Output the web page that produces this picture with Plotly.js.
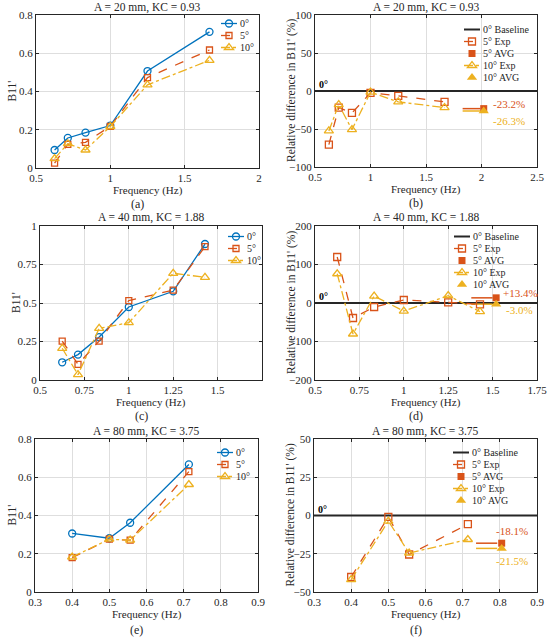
<!DOCTYPE html>
<html><head><meta charset="utf-8">
<script src="https://cdn.plot.ly/plotly-3.0.1.min.js"></script>
<style>html,body{margin:0;padding:0;background:#fff}#chart{width:550px;height:640px}</style>
</head><body><div id="chart"></div>
<script>
// ---------- data ----------
const freqA20 = [0.625, 0.714, 0.833, 1.0, 1.25, 1.667];
const b11A20_0 = [0.094, 0.157, 0.185, 0.222, 0.507, 0.712];
const b11A20_5 = [0.025, 0.124, 0.134, 0.218, 0.473, 0.617];
const b11A20_10 = [0.049, 0.127, 0.094, 0.217, 0.435, 0.563];
const relA20_5 = [-70.5, -21.8, -28.8, -2.4, -6.4, -14.3];
const relA20_10 = [-52.5, -17.8, -50.8, -1.5, -14.3, -21.8];

const freqA40 = [0.625, 0.714, 0.833, 1.0, 1.25, 1.429];
const b11A40_0 = [0.115, 0.165, 0.279, 0.474, 0.576, 0.883];
const b11A40_5 = [0.253, 0.102, 0.253, 0.515, 0.584, 0.866];
const b11A40_10 = [0.206, 0.035, 0.335, 0.372, 0.693, 0.667];
const relA40_5 = [119.5, -39, -10.4, 7.8, 1.7, -3.5];
const relA40_10 = [76, -80.5, 18, -21, 19, -22.5];

const freqA80 = [0.4, 0.5, 0.556, 0.714];
const b11A80_0 = [0.306, 0.281, 0.362, 0.667];
const b11A80_5 = [0.18, 0.276, 0.271, 0.629];
const b11A80_10 = [0.183, 0.276, 0.271, 0.562];
const relA80_5 = [-40.2, -0.9, -25.5, -5.7];
const relA80_10 = [-41.9, -3.7, -24.5, -15.7];

// averages (A = 20, 40, 80 mm)
const avg5 = [-23.2, 13.4, -18.1];
const avg10 = [-26.3, -3.0, -21.5];
const avgX = [2.02, 1.52, 0.805];
const avgLineStart = [1.83, 1.38, 0.736];
const avgLineEnd = [1.99, 1.50, 0.793];
const avgLabel5 = ['-23.2%', '+13.4%', '-18.1%'];
const avgLabel10 = ['-26.3%', '-3.0%', '-21.5%'];

const titles = ['A = 20 mm, KC = 0.93', 'A = 40 mm, KC = 1.88', 'A = 80 mm, KC = 3.75'];
const panelLabels = ['(a)', '(b)', '(c)', '(d)', '(e)', '(f)'];
const seriesNames = ['0°', '5°', '10°'];
const relNames = ['0° Baseline', '5° Exp', '5° AVG', '10° Exp', '10° AVG'];
const xTitle = 'Frequency (Hz)';
const yTitleB = "B11'";
const yTitleR = "Relative difference in B11' (%)";

// ---------- styling ----------
const W = 550, H = 640;
const C0 = '#0072BD', C5 = '#D95319', C10 = '#EDB120', CB = '#262626', TXT = '#262626';
const FONT = '"Liberation Serif", "Times New Roman", serif';
const fx = p => p / W, fy = p => 1 - p / H;

// panel geometry in pixels: [left, right, top, bottom]; lg = legend [left, top]
const panels = [
  {box: [36, 259, 15, 168], xr: [0.5, 2], yr: [0, 0.8], xt: [0.5, 1, 1.5, 2], yt: [0, 0.2, 0.4, 0.6, 0.8], lg: [200, 9]},
  {box: [315, 537, 15, 167], xr: [0.5, 2.5], yr: [-100, 100], xt: [0.5, 1, 1.5, 2, 2.5], yt: [-100, -50, 0, 50, 100], lg: [443, 15]},
  {box: [40, 262, 226, 380], xr: [0.5, 1.75], yr: [0, 1], xt: [0.5, 0.75, 1, 1.25, 1.5], yt: [0, 0.25, 0.5, 0.75, 1], lg: [207, 222]},
  {box: [315, 537, 226, 380], xr: [0.5, 1.75], yr: [-200, 200], xt: [0.5, 0.75, 1, 1.25, 1.5, 1.75], yt: [-200, -100, 0, 100, 200], lg: [433, 222]},
  {box: [35, 258, 439, 592], xr: [0.3, 0.9], yr: [0, 0.8], xt: [0.3, 0.4, 0.5, 0.6, 0.7, 0.8, 0.9], yt: [0, 0.2, 0.4, 0.6, 0.8], lg: [196, 438]},
  {box: [314, 537, 439, 592], xr: [0.3, 0.9], yr: [-50, 50], xt: [0.3, 0.4, 0.5, 0.6, 0.7, 0.8, 0.9], yt: [-50, -25, 0, 25, 50], lg: [432, 438]}
];
const labelOffset = [36, 36, 38];   // px below plot bottom for (a)..(f) per row
// pixel offsets of the average labels from their markers
const avgLabelShift = [
  {x5: 25, y5: 5, x10: 25, y10: -10},
  {x5: 24, y5: 5, x10: 23, y10: -6},
  {x5: 10, y5: 12, x10: 10, y10: -13}
];

const layout = {
  width: W, height: H, margin: {l: 0, r: 0, t: 0, b: 0},
  paper_bgcolor: '#fff', plot_bgcolor: '#fff',
  font: {family: FONT, size: 11, color: TXT},
  showlegend: true, annotations: []
};

function axisCommon(range, tickvals) {
  return {
    range: range, tickmode: 'array', tickvals: tickvals,
    showgrid: true, gridcolor: '#dedede', gridwidth: 1, zeroline: false,
    showline: true, mirror: 'ticks', linecolor: CB, linewidth: 1,
    ticks: 'inside', ticklen: 3, tickwidth: 1, tickcolor: CB,
    tickfont: {family: FONT, size: 11, color: TXT}, fixedrange: true
  };
}

panels.forEach((p, i) => {
  const n = i === 0 ? '' : String(i + 1);
  const [l, r, t, b] = p.box;
  layout['xaxis' + n] = Object.assign(axisCommon(p.xr, p.xt), {domain: [fx(l), fx(r)], anchor: 'y' + n});
  layout['yaxis' + n] = Object.assign(axisCommon(p.yr, p.yt), {domain: [fy(b), fy(t)], anchor: 'x' + n});
  layout['legend' + n] = {
    x: fx(p.lg[0]), y: fy(p.lg[1]), xanchor: 'left', yanchor: 'top',
    bgcolor: 'rgba(255,255,255,0)', borderwidth: 0, tracegroupgap: 0,
    font: {family: FONT, size: 10, color: TXT}, itemwidth: 30
  };
  const cx = (l + r) / 2, cy = (t + b) / 2;
  const ann = layout.annotations;
  ann.push({text: titles[Math.floor(i / 2)], xref: 'paper', yref: 'paper', x: fx(cx), y: fy(t - 8),
            xanchor: 'center', yanchor: 'middle', showarrow: false, borderpad: 0, font: {size: 11.5}});
  ann.push({text: xTitle, xref: 'paper', yref: 'paper', x: fx(cx), y: fy(b + 22),
            xanchor: 'center', yanchor: 'middle', showarrow: false, borderpad: 0, font: {size: 11}});
  ann.push({text: i % 2 === 0 ? yTitleB : yTitleR, xref: 'paper', yref: 'paper', x: fx(l - 24), y: fy(cy),
            xanchor: 'center', yanchor: 'middle', textangle: -90, showarrow: false, borderpad: 0, font: {size: 11.5}});
  ann.push({text: panelLabels[i], xref: 'paper', yref: 'paper', x: fx(cx - 10), y: fy(b + labelOffset[Math.floor(i / 2)]),
            xanchor: 'center', yanchor: 'middle', showarrow: false, borderpad: 0, font: {size: 12}});
});

const data = [];
function b11Traces(x, ys, k) {
  const n = k === 0 ? '' : String(k + 1);
  const styles = [
    {c: C0, dash: 'solid', sym: 'circle-open', size: 7},
    {c: C5, dash: 'dash', sym: 'square-open', size: 6},
    {c: C10, dash: 'dashdot', sym: 'triangle-up-open', size: 8}
  ];
  ys.forEach((y, j) => {
    const s = styles[j];
    data.push({x: x, y: y, name: seriesNames[j], xaxis: 'x' + n, yaxis: 'y' + n, legend: 'legend' + n,
      type: 'scatter', mode: 'lines+markers', line: {color: s.c, width: 1.3, dash: s.dash},
      marker: {symbol: s.sym, size: s.size, color: s.c, line: {width: 1.3, color: s.c}}});
  });
}
function relTraces(x, r5, r10, k, a) {
  const n = String(k + 1);
  const xa = 'x' + n, ya = 'y' + n, lg = 'legend' + n;
  const xr = panels[k].xr;
  const sh = avgLabelShift[a];
  data.push({x: xr, y: xr.map(() => 0), name: relNames[0], xaxis: xa, yaxis: ya, legend: lg,
    type: 'scatter', mode: 'lines', line: {color: CB, width: 2}});
  data.push({x: [avgLineStart[a], avgLineEnd[a]], y: [avg5[a], avg5[a]], showlegend: false, xaxis: xa, yaxis: ya,
    type: 'scatter', mode: 'lines', line: {color: C5, width: 1.5}});
  data.push({x: [avgLineStart[a], avgLineEnd[a]], y: [avg10[a], avg10[a]], showlegend: false, xaxis: xa, yaxis: ya,
    type: 'scatter', mode: 'lines', line: {color: C10, width: 1.5}});
  data.push({x: x, y: r5, name: relNames[1], xaxis: xa, yaxis: ya, legend: lg, type: 'scatter', mode: 'lines+markers',
    line: {color: C5, width: 1.3, dash: 'dash'}, marker: {symbol: 'square-open', size: 7, color: C5, line: {width: 1.3, color: C5}}});
  data.push({x: [avgX[a]], y: [avg5[a]], name: relNames[2], xaxis: xa, yaxis: ya, legend: lg, type: 'scatter', mode: 'markers',
    marker: {symbol: 'square', size: 7, color: C5}});
  data.push({x: x, y: r10, name: relNames[3], xaxis: xa, yaxis: ya, legend: lg, type: 'scatter', mode: 'lines+markers',
    line: {color: C10, width: 1.3, dash: 'dashdot'}, marker: {symbol: 'triangle-up-open', size: 8, color: C10, line: {width: 1.3, color: C10}}});
  data.push({x: [avgX[a]], y: [avg10[a]], name: relNames[4], xaxis: xa, yaxis: ya, legend: lg, type: 'scatter', mode: 'markers',
    marker: {symbol: 'triangle-up', size: 9, color: C10}});
  layout.annotations.push({text: avgLabel5[a], xref: xa, yref: ya, x: avgX[a], y: avg5[a], xanchor: 'center', yanchor: 'middle',
    xshift: sh.x5, yshift: sh.y5, showarrow: false, borderpad: 0, font: {size: 11, color: C5}});
  layout.annotations.push({text: avgLabel10[a], xref: xa, yref: ya, x: avgX[a], y: avg10[a], xanchor: 'center', yanchor: 'middle',
    xshift: sh.x10, yshift: sh.y10, showarrow: false, borderpad: 0, font: {size: 11, color: C10}});
  layout.annotations.push({text: '<b>0°</b>', xref: xa, yref: ya, x: xr[0], y: 0, xanchor: 'left', yanchor: 'bottom',
    xshift: 3, yshift: 0, showarrow: false, borderpad: 0, font: {size: 10, color: '#000'}});
}

b11Traces(freqA20, [b11A20_0, b11A20_5, b11A20_10], 0);
relTraces(freqA20, relA20_5, relA20_10, 1, 0);
b11Traces(freqA40, [b11A40_0, b11A40_5, b11A40_10], 2);
relTraces(freqA40, relA40_5, relA40_10, 3, 1);
b11Traces(freqA80, [b11A80_0, b11A80_5, b11A80_10], 4);
relTraces(freqA80, relA80_5, relA80_10, 5, 2);

Plotly.newPlot('chart', data, layout, {staticPlot: true, responsive: false}).then(gd => {
  // compact legends like the reference: tighter rows, shorter symbol lines
  const legends = Array.from(gd.querySelectorAll('g')).filter(g => /^legend\d*$/.test(g.getAttribute('class') || ''));
  legends.forEach(lg => {
    const items = Array.from(lg.querySelectorAll('g.traces'));
    if (!items.length) return;
    const pos = items.map(t => {
      const m = /translate\(\s*([-\d.e]+)[ ,]+([-\d.e]+)\s*\)/.exec(t.getAttribute('transform') || '');
      return m ? [parseFloat(m[1]), parseFloat(m[2])] : [0, 0];
    });
    const y0 = Math.min.apply(null, pos.map(v => v[1]));
    items.forEach((t, i) => {
      t.setAttribute('transform', 'translate(' + pos[i][0] + ',' + (y0 + (pos[i][1] - y0) * 12 / 19) + ')');
      t.querySelectorAll('g.legendlines path').forEach(p => p.setAttribute('d', 'M21,0h16'));
      t.querySelectorAll('g.legendpoints path').forEach(p => {
        const tr = p.getAttribute('transform') || '';
        const m = /translate\(\s*([-\d.e]+)[ ,]+([-\d.e]+)\s*\)/.exec(tr);
        const yy = m ? parseFloat(m[2]) : 0;
        p.setAttribute('transform', 'translate(29,' + yy + ')');
      });
    });
  });
});
</script>
</body></html>
